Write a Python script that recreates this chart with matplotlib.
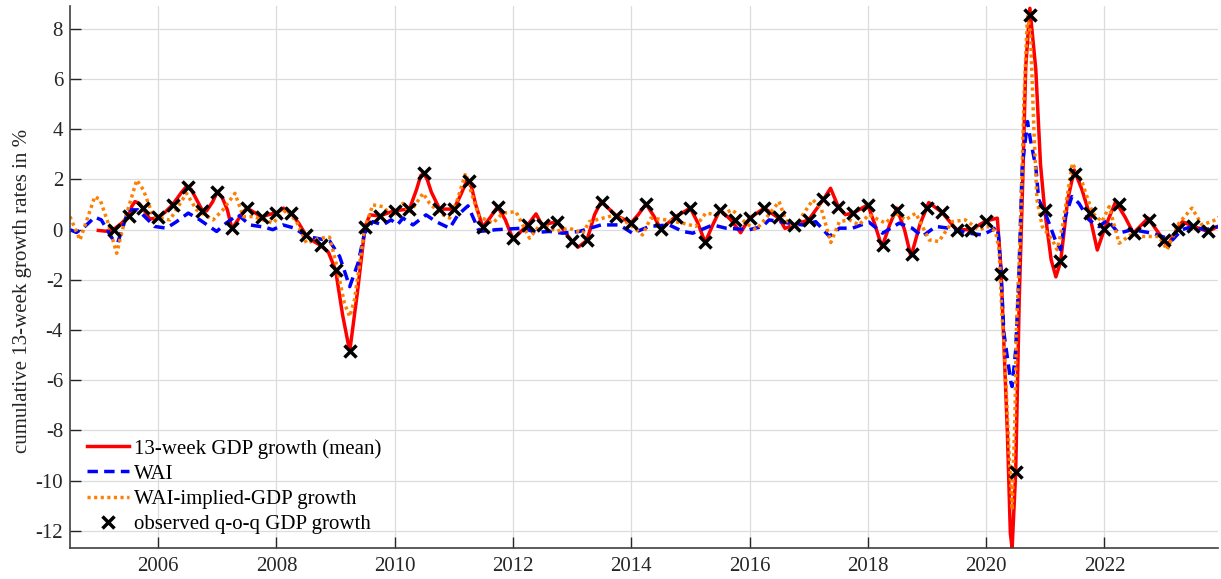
import numpy as np
import matplotlib
matplotlib.use('Agg')
import matplotlib.pyplot as plt

plt.rcParams['font.family'] = ['Liberation Serif', 'DejaVu Serif']
plt.rcParams['axes.unicode_minus'] = False

# observed q-o-q GDP growth, quarter ends 2005Q1 .. 2023Q3
obs_t = np.arange(2005.25, 2023.76, 0.25)
obs_v = [0.0, 0.55, 0.85, 0.5,
         0.98, 1.70, 0.76, 1.51,
         0.05, 0.86, 0.51, 0.66,
         0.66, -0.22, -0.63, -1.6,
         -4.82, 0.12, 0.55, 0.76,
         0.82, 2.25, 0.82, 0.82,
         1.92, 0.1, 0.92, -0.34,
         0.19, 0.19, 0.32, -0.47,
         -0.43, 1.12, 0.55, 0.28,
         1.03, 0.02, 0.52, 0.86,
         -0.51, 0.79, 0.39, 0.46,
         0.86, 0.5, 0.19, 0.39,
         1.21, 0.92, 0.66, 0.99,
         -0.61, 0.79, -0.98, 0.86,
         0.70, -0.01, -0.01, 0.35,
         -1.77, -9.66, 8.56, 0.79,
         -1.26, 2.22, 0.68, 0.02,
         1.02, -0.14, 0.39, -0.41,
         0.02, 0.15, -0.07]

# 13-week GDP growth (mean)
gdp_t = [2004.99, 2005.12, 2005.24, 2005.38, 2005.5, 2005.56, 2005.61, 2005.68, 2005.75,
         2005.86, 2006.0, 2006.12, 2006.24, 2006.4, 2006.48, 2006.56,
         2006.75, 2006.82, 2006.92, 2007.0, 2007.08, 2007.17, 2007.25, 2007.38, 2007.5,
         2007.62, 2007.75, 2007.9,
         2008.0, 2008.12, 2008.25, 2008.38, 2008.5, 2008.62, 2008.75, 2008.88, 2009.0,
         2009.12, 2009.24, 2009.37,
         2009.5, 2009.58, 2009.75, 2010.0, 2010.25, 2010.37, 2010.44, 2010.49, 2010.55,
         2010.62, 2010.76,
         2011.0, 2011.12, 2011.22, 2011.3, 2011.37, 2011.49, 2011.62, 2011.74, 2011.87,
         2012.0, 2012.25, 2012.39, 2012.49,
         2012.75, 2013.0, 2013.1, 2013.25, 2013.38, 2013.49, 2013.75, 2014.0, 2014.12,
         2014.25, 2014.38, 2014.5,
         2014.75, 2015.0, 2015.12, 2015.25, 2015.38, 2015.5, 2015.68, 2015.85, 2016.0,
         2016.25, 2016.5, 2016.6,
         2016.75, 2017.0, 2017.25, 2017.37, 2017.5, 2017.62, 2017.75, 2018.0, 2018.12,
         2018.24, 2018.37,
         2018.49, 2018.62, 2018.73, 2018.88, 2019.03, 2019.25, 2019.5, 2019.75, 2020.0,
         2020.19, 2020.25,
         2020.36, 2020.41, 2020.44, 2020.5, 2020.56, 2020.62, 2020.67, 2020.74, 2020.84,
         2020.92, 2020.99, 2021.1, 2021.18, 2021.26, 2021.38, 2021.49, 2021.62, 2021.74,
         2021.88, 2022.0, 2022.19,
         2022.35, 2022.49, 2022.74, 2023.0, 2023.06, 2023.23, 2023.32, 2023.48, 2023.75,
         2023.91]
gdp_v = [-0.03, -0.06, 0.0, 0.25, 0.55, 0.95, 1.12, 1.05, 0.83,
         0.42, 0.48, 0.7, 0.98, 1.5, 1.72, 1.6,
         0.76, 0.75, 1.1, 1.5, 1.3, 0.8, 0.03, 0.5, 0.86,
         0.7, 0.51, 0.62,
         0.66, 0.86, 0.66, 0.25, -0.22, -0.45, -0.63, -0.9, -1.6,
         -3.4, -4.85, -2.5,
         0.12, 0.59, 0.55, 0.76, 0.82, 1.6, 2.15, 2.25, 2.0,
         1.5, 0.82,
         0.82, 1.4, 1.95, 1.7, 1.0, 0.1, 0.5, 0.92, 0.4,
         -0.38, 0.19, 0.63, 0.19,
         0.32, -0.47, -0.70, -0.43, 0.6, 1.12, 0.55, 0.28, 0.6,
         1.03, 0.55, 0.02,
         0.52, 0.86, 0.3, -0.51, 0.2, 0.79, 0.4, -0.12, 0.46,
         0.86, 0.45, 0.05,
         0.19, 0.39, 1.21, 1.65, 0.92, 0.6, 0.66, 0.99, 0.2,
         -0.70, 0.2,
         0.86, 0.0, -1.07, 0.2, 1.08, 0.70, 0.0, 0.0, 0.35,
         0.46, -1.5,
         -8.1, -12.1, -12.7, -9.66, -2.8, 2.0, 6.5, 8.82, 6.4,
         2.6, 0.79, -1.2, -1.88, -1.27, 1.2, 2.38, 1.6, 0.68,
         -0.81, 0.02, 1.12,
         0.5, -0.14, 0.46, -0.41, -0.67, 0.02, 0.32, 0.15, -0.07,
         0.12]

# WAI
wai_t = [2004.51, 2004.62, 2004.75, 2004.93, 2005.04, 2005.24, 2005.32, 2005.5, 2005.66,
         2005.94, 2006.14, 2006.3, 2006.51, 2006.7, 2006.99, 2007.15, 2007.35, 2007.55,
         2007.8, 2007.94, 2008.11, 2008.31, 2008.51, 2008.7, 2008.9, 2009.07, 2009.24,
         2009.38, 2009.49, 2009.63, 2009.8, 2009.94, 2010.05, 2010.14, 2010.31, 2010.53,
         2010.7, 2010.93, 2011.07, 2011.24, 2011.43, 2011.72, 2012.17, 2012.39, 2012.62,
         2012.84, 2013.12, 2013.49, 2013.8, 2014.02, 2014.31, 2014.64, 2014.87, 2015.04,
         2015.38, 2015.6, 2016.0, 2016.22, 2016.33, 2016.67, 2016.9, 2017.12, 2017.35,
         2017.52, 2017.74, 2018.02, 2018.25, 2018.53, 2018.75, 2018.92, 2019.15, 2019.37,
         2019.71, 2019.94, 2020.11, 2020.19, 2020.21, 2020.25, 2020.3, 2020.42, 2020.44,
         2020.5, 2020.55, 2020.61, 2020.7, 2020.75, 2020.84, 2020.89, 2021.0, 2021.17,
         2021.26, 2021.34, 2021.45, 2021.57, 2021.74, 2021.91, 2022.05, 2022.24, 2022.47,
         2022.81, 2023.15, 2023.31, 2023.48, 2023.71, 2023.92]
wai_v = [0.0, -0.11, 0.1, 0.5, 0.39, -0.41, -0.5, 0.79, 0.79,
         0.13, 0.06, 0.3, 0.66, 0.4, -0.07, 0.26, 0.6, 0.19,
         0.1, 0.0, 0.19, 0.06, -0.27, -0.35, -0.45, -1.07, -2.27,
         -1.34, -0.14, 0.32, 0.19, 0.39, 0.2, 0.46, 0.19, 0.59,
         0.32, 0.06, 0.59, 0.95, -0.07, 0.0, 0.06, -0.11, -0.07,
         -0.14, -0.07, 0.19, 0.19, -0.14, 0.13, 0.19, -0.07, -0.14,
         0.19, 0.06, 0.0, 0.13, 0.39, 0.26, 0.19, 0.32, -0.27,
         0.06, 0.06, 0.3, -0.14, 0.26, 0.06, -0.27, 0.13, 0.06,
         -0.14, -0.21, 0.0, 0.1, -0.3, -1.6, -4.1, -6.1, -6.25,
         -4.8, -2.1, 2.5, 4.31, 3.58, 2.5, 1.19, 0.66, -0.41,
         -0.8, 0.52, 1.32, 1.05, 0.39, 0.12, 0.39, -0.14, 0.0,
         -0.14, -0.41, 0.0, 0.12, 0.0, 0.12]

# WAI-implied GDP growth
imp_t = [2004.51, 2004.68, 2004.93, 2005.02, 2005.15, 2005.3, 2005.45, 2005.64, 2005.75,
         2005.92, 2006.2, 2006.48, 2006.65, 2006.93, 2007.1, 2007.3, 2007.44, 2007.61,
         2007.94, 2008.17, 2008.34, 2008.51, 2008.73, 2008.9, 2009.01, 2009.15, 2009.24,
         2009.32, 2009.49, 2009.63, 2009.8, 2009.97, 2010.14, 2010.25, 2010.48, 2010.59,
         2010.76, 2010.93, 2011.04, 2011.2, 2011.3, 2011.43, 2011.66, 2011.83, 2012.05,
         2012.28, 2012.48, 2012.73, 2012.95, 2013.18, 2013.29, 2013.52, 2013.74, 2014.02,
         2014.19, 2014.33, 2014.59, 2014.87, 2015.09, 2015.26, 2015.49, 2015.71, 2015.94,
         2016.11, 2016.28, 2016.5, 2016.61, 2016.78, 2016.9, 2017.07, 2017.21, 2017.375,
         2017.52, 2017.69, 2017.85, 2018.02, 2018.13, 2018.3, 2018.47, 2018.64, 2018.81,
         2019.04, 2019.2, 2019.43, 2019.65, 2019.88, 2020.05, 2020.16, 2020.22, 2020.27,
         2020.31, 2020.39, 2020.44, 2020.49, 2020.51, 2020.58, 2020.64, 2020.7, 2020.75,
         2020.81, 2020.86, 2020.95, 2021.12, 2021.2, 2021.29, 2021.46, 2021.63, 2021.8,
         2021.96, 2022.08, 2022.25, 2022.44, 2022.64, 2022.92, 2023.06, 2023.26, 2023.48,
         2023.65, 2023.88, 2023.93]
imp_v = [0.52, -0.41, 1.32, 1.19, 0.3, -0.94, 0.5, 1.98, 1.59,
         0.52, 0.39, 1.45, 0.79, 0.39, 0.8, 1.45, 0.52, 0.52,
         0.26, 0.79, 0.32, -0.54, -0.34, -0.3, -1.34, -2.93, -3.46,
         -2.8, 0.0, 0.99, 0.92, 0.52, 1.05, 0.66, 1.45, 1.05,
         0.66, 0.46, 1.05, 2.25, 1.45, 0.52, 0.26, 0.66, 0.72,
         -0.34, 0.26, -0.07, 0.06, -0.14, 0.32, 0.46, 0.59, 0.13,
         -0.21, 0.46, 0.39, 0.26, 0.13, 0.66, 0.59, 0.79, 0.26,
         0.0, 0.46, 1.12, 0.39, 0.06, 0.59, 1.19, 0.86, -0.51,
         0.32, 0.39, 0.19, 0.6, 0.46, 0.26, 0.66, 0.39, 0.66,
         -0.41, -0.47, 0.32, 0.39, 0.0, 0.13, -0.07, -0.8, -3.46,
         -4.8, -9.0, -11.16, -7.2, -4.1, -0.14, 5.2, 8.56, 7.8,
         3.85, 1.19, 0.12, -0.41, -0.8, 0.12, 2.65, 1.85, 0.66,
         0.32, 0.92, -0.54, -0.21, -0.27, -0.27, -0.8, 0.26, 0.86,
         0.19, 0.39, 0.5]

year_ticks = np.arange(2006, 2023, 2)
val_ticks = np.arange(-12, 9, 2)

fig = plt.figure(figsize=(12.21, 5.79), dpi=100)
ax = fig.add_axes([0.0573, 0.0541, 0.9402, 0.935])

ax.plot(gdp_t, gdp_v, color='#ff0000', lw=2.5, label='13-week GDP growth (mean)')
ax.plot(wai_t, wai_v, color='#0000ff', lw=2.5, linestyle=(0, (3.0, 1.8)), label='WAI')
ax.plot(imp_t, imp_v, color='#ff8000', lw=2.5, linestyle=(0, (0.9, 1.0)),
        label='WAI-implied-GDP growth')
ax.plot(obs_t, obs_v, linestyle='none', marker='x', color='black', markersize=9,
        mew=2.5, label='observed q-o-q GDP growth')

ax.set_xlim(2004.51, 2023.92)
ax.set_ylim(-12.67, 8.9)
ax.set_xticks(year_ticks)
ax.set_yticks(val_ticks)
ax.grid(True, color='#dcdcdc', lw=0.9)
ax.set_axisbelow(True)
for s in ['top', 'right']:
    ax.spines[s].set_visible(False)
for s in ['left', 'bottom']:
    ax.spines[s].set_color('#404040')
    ax.spines[s].set_linewidth(1.2)
ax.tick_params(direction='in', length=8, width=1.0, colors='#262626', labelsize=15)
ax.tick_params(axis='x', pad=7)
ax.tick_params(axis='y', pad=5)
ax.set_ylabel('cumulative 13-week growth rates in %', fontsize=15, color='#262626')
ax.yaxis.set_label_coords(-0.0331, 0.474)

ax.legend(loc='lower left', bbox_to_anchor=(0.0076, 0.0096), frameon=False, fontsize=15,
          handlelength=2.0, handletextpad=0.25, labelspacing=0.27, borderaxespad=0.0)

fig.savefig('out.png', dpi=100)
